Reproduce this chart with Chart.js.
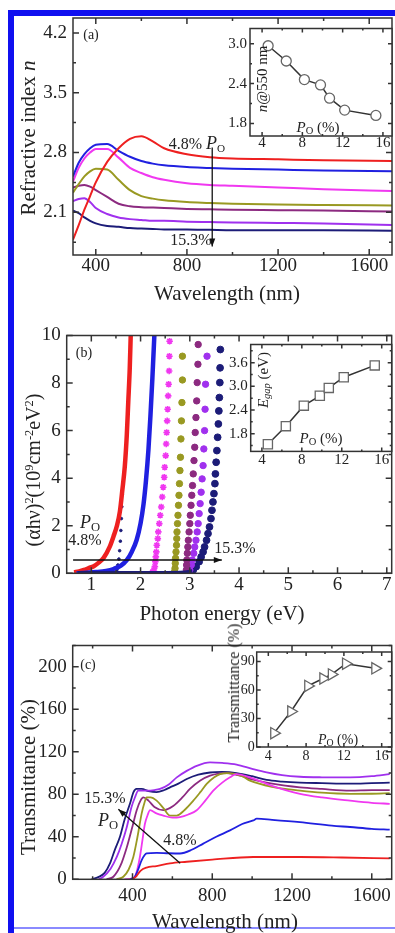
<!DOCTYPE html>
<html>
<head>
<meta charset="utf-8">
<script src="https://cdn.jsdelivr.net/npm/chart.js@4.4.0/dist/chart.umd.min.js"></script>
<style>
  html, body { margin: 0; padding: 0; background: #fff; }
  #page { position: relative; width: 395px; height: 933px; overflow: hidden; background: #fff;
          font-family: "Liberation Serif", "DejaVu Serif", serif; color: #222; }
  canvas { position: absolute; }
  .t { position: absolute; white-space: nowrap; line-height: 1; transform: translate(-50%, -50%); }
  .rot { transform: translate(-50%, -50%) rotate(-90deg); }
  sub { font-size: 70%; vertical-align: -0.25em; line-height: 0; }
  sup { font-size: 62%; vertical-align: 0.6em; line-height: 0; }
  .bar { position: absolute; background: #1010f0; }
</style>
</head>
<body>
<div id="page">
  <div class="bar" style="left:8px;top:10px;width:6px;height:923px"></div>
  <div class="bar" style="left:8px;top:10px;width:387px;height:6px"></div>
  <div class="bar" style="left:14px;top:927px;width:381px;height:2px;background:#8a8aff"></div>

  <canvas id="mainA"></canvas>
  <canvas id="mainB"></canvas>
  <canvas id="mainC"></canvas>
  <canvas id="insetA"></canvas>
  <canvas id="insetB"></canvas>
  <canvas id="insetC"></canvas>

  <!-- panel (a) text -->
  <div class="t" style="left:91px;top:35px;font-size:14px">(a)</div>
  <div class="t" style="left:197px;top:143px;font-size:16px">4.8% <i style="font-size:18px">P</i><sub>O</sub></div>
  <div class="t" style="left:191px;top:240px;font-size:16px">15.3%</div>
  <div class="t rot" style="left:28px;top:138px;font-size:21px">Refractive index <i>n</i></div>
  <div class="t" style="left:227px;top:293px;font-size:21px">Wavelength (nm)</div>
  <div class="t rot" style="left:262px;top:79px;font-size:15px"><i>n</i>@550 nm</div>
  <div class="t" style="left:318px;top:127px;font-size:15px"><i>P</i><sub>O</sub> (%)</div>

  <!-- panel (b) text -->
  <div class="t" style="left:84px;top:353px;font-size:14px">(b)</div>
  <div class="t" style="left:90px;top:522px;font-size:18px"><i>P</i><sub>O</sub></div>
  <div class="t" style="left:85px;top:540px;font-size:16px">4.8%</div>
  <div class="t" style="left:235px;top:548px;font-size:16px">15.3%</div>
  <div class="t rot" style="left:33px;top:470px;font-size:20px">(αhν)<sup>2</sup>(10<sup>9</sup>cm<sup>-2</sup>eV<sup>2</sup>)</div>
  <div class="t" style="left:222px;top:613px;font-size:21px">Photon energy (eV)</div>
  <div class="t rot" style="left:263px;top:380px;font-size:15px"><i>E<sub>gap</sub></i> (eV)</div>
  <div class="t" style="left:321px;top:438px;font-size:15px"><i>P</i><sub>O</sub> (%)</div>

  <!-- panel (c) text -->
  <div class="t" style="left:88px;top:665px;font-size:14px">(c)</div>
  <div class="t" style="left:105px;top:798px;font-size:16px">15.3%</div>
  <div class="t" style="left:108px;top:820px;font-size:18px"><i>P</i><sub>O</sub></div>
  <div class="t" style="left:180px;top:840px;font-size:16px">4.8%</div>
  <div class="t rot" style="left:28px;top:777px;font-size:21px">Transmittance (%)</div>
  <div class="t" style="left:225px;top:921px;font-size:21px">Wavelength (nm)</div>
  <div class="t rot" style="left:234px;top:683px;font-size:16px">Transmittance (%)</div>
  <div class="t" style="left:338px;top:740px;font-size:14px"><i>P</i><sub>O</sub> (%)</div>
</div>

<script>
// ---------- data: (a) refractive index ----------
const wlA     = [300, 325, 350, 375, 400, 450, 500, 550, 600, 650, 700, 800, 900, 1000, 1200, 1400, 1700];
const nRed    = [1.78, 1.95, 2.13, 2.29, 2.45, 2.69, 2.85, 2.96, 2.99, 2.93, 2.85, 2.78, 2.745, 2.73, 2.72, 2.71, 2.70];
const nBlue   = [2.52, 2.68, 2.78, 2.85, 2.89, 2.90, 2.82, 2.75, 2.70, 2.67, 2.65, 2.63, 2.62, 2.61, 2.60, 2.59, 2.58];
const nMag    = [2.46, 2.62, 2.73, 2.80, 2.84, 2.84, 2.74, 2.62, 2.56, 2.51, 2.48, 2.44, 2.42, 2.41, 2.39, 2.37, 2.35];
const nOlive  = [2.33, 2.43, 2.52, 2.58, 2.61, 2.60, 2.48, 2.36, 2.29, 2.26, 2.24, 2.22, 2.21, 2.20, 2.19, 2.185, 2.18];
const nPurple = [2.39, 2.41, 2.42, 2.40, 2.36, 2.28, 2.20, 2.17, 2.16, 2.155, 2.15, 2.14, 2.135, 2.13, 2.125, 2.12, 2.11];
const nViolet = [2.23, 2.255, 2.265, 2.22, 2.15, 2.08, 2.04, 2.02, 2.01, 2.00, 2.00, 1.99, 1.985, 1.98, 1.975, 1.97, 1.95];
const nNavy   = [2.12, 2.09, 2.04, 2.00, 1.97, 1.94, 1.93, 1.915, 1.91, 1.905, 1.90, 1.90, 1.895, 1.89, 1.89, 1.89, 1.885];

// ---------- data: insets, oxygen partial pressure (%) ----------
const pO      = [4.6, 6.4, 8.2, 9.8, 10.7, 12.2, 15.3];
const nAt550  = [2.97, 2.74, 2.46, 2.38, 2.18, 2.00, 1.92];
const eGap    = [1.53, 1.99, 2.51, 2.76, 2.96, 3.23, 3.53];
const tInset  = [14.6, 37.4, 64.3, 72.1, 76.4, 87.7, 82.8];

// ---------- data: (b) Tauc plot ----------
const redE = [0.65, 0.75, 0.85, 0.95, 1.05, 1.15, 1.25, 1.37, 1.45, 1.52, 1.58, 1.63, 1.68, 1.72, 1.75, 1.78, 1.80];
const redY = [0.04, 0.08, 0.14, 0.22, 0.30, 0.45, 0.65, 1.10, 1.55, 2.00, 2.60, 3.50, 4.50, 5.80, 7.20, 8.60, 10.0];
const blueE = [0.70, 0.90, 1.10, 1.30, 1.45, 1.60, 1.72, 1.82, 1.92, 2.00, 2.06, 2.11, 2.16, 2.20, 2.24, 2.28];
const blueY = [0.0, 0.02, 0.05, 0.10, 0.18, 0.32, 0.55, 0.90, 1.40, 2.10, 2.90, 3.90, 5.20, 6.60, 8.20, 10.0];
const dotE = [1.52, 1.54, 1.56, 1.575, 1.59, 1.60, 1.61, 1.62, 1.63, 1.64];
const dotY = [0.15, 0.35, 0.6, 0.95, 1.35, 1.8, 2.3, 2.8, 3.3, 3.8];
const magE = [2.24, 2.27, 2.29, 2.30, 2.31, 2.32, 2.33, 2.35, 2.36, 2.38, 2.40, 2.42, 2.44, 2.46, 2.48, 2.49, 2.51, 2.52, 2.53, 2.54, 2.55, 2.56, 2.57, 2.58, 2.585, 2.59];
const magY = [0.05, 0.14, 0.28, 0.49, 0.69, 0.90, 1.18, 1.46, 1.74, 2.09, 2.44, 2.79, 3.21, 3.62, 4.04, 4.46, 4.95, 5.44, 5.92, 6.41, 6.90, 7.46, 7.95, 8.51, 9.13, 9.76];
const oliveE = [2.69, 2.70, 2.705, 2.71, 2.72, 2.73, 2.735, 2.74, 2.75, 2.76, 2.77, 2.78, 2.79, 2.80, 2.81, 2.82, 2.83, 2.84, 2.85, 2.85];
const oliveY = [0.07, 0.21, 0.42, 0.63, 0.90, 1.18, 1.46, 1.74, 2.09, 2.44, 2.86, 3.28, 3.77, 4.32, 4.88, 5.65, 6.41, 7.18, 8.13, 9.13];
const purpleE = [2.93, 2.935, 2.94, 2.95, 2.96, 2.97, 2.985, 3.00, 3.01, 3.025, 3.04, 3.055, 3.07, 3.085, 3.10, 3.11, 3.125, 3.14, 3.15, 3.165, 3.17];
const purpleY = [0.14, 0.35, 0.56, 0.84, 1.11, 1.39, 1.74, 2.09, 2.44, 2.86, 3.28, 3.69, 4.18, 4.74, 5.30, 5.92, 6.55, 7.25, 8.02, 8.79, 9.62];
const violetE = [3.00, 3.03, 3.05, 3.08, 3.10, 3.125, 3.15, 3.17, 3.19, 3.21, 3.23, 3.25, 3.27, 3.285, 3.30, 3.31, 3.32, 3.35];
const violetY = [0.14, 0.35, 0.56, 0.84, 1.11, 1.39, 1.74, 2.09, 2.51, 2.93, 3.41, 3.97, 4.53, 5.23, 6.00, 6.90, 7.95, 9.13];
const navyE = [3.07, 3.13, 3.19, 3.23, 3.27, 3.30, 3.34, 3.37, 3.40, 3.43, 3.45, 3.47, 3.49, 3.51, 3.52, 3.535, 3.55, 3.565, 3.58, 3.59, 3.60, 3.61, 3.615, 3.62];
const navyY = [0.14, 0.28, 0.49, 0.69, 0.90, 1.11, 1.39, 1.67, 1.95, 2.30, 2.65, 3.00, 3.35, 3.77, 4.18, 4.67, 5.16, 5.72, 6.28, 6.83, 7.39, 8.02, 8.64, 9.41];
const navyBaseE = [0.72, 1.20, 1.80, 2.40, 2.90, 3.05];
const navyBaseY = [0.02, 0.02, 0.02, 0.02, 0.04, 0.10];

// ---------- data: (c) transmittance ----------
const navyWl = [195, 228, 260, 287, 310, 337, 360, 387, 405, 420, 446, 480, 521, 560, 588, 630, 672, 730, 789, 850, 922, 1000, 1073, 1150, 1240, 1350, 1491, 1600, 1690];
const navyT  = [0, 2, 6, 15, 27, 40, 56, 71, 82, 85, 85, 83, 82, 84, 86.5, 90, 94.4, 98.5, 100.5, 101, 100, 97, 93.5, 92, 91, 90.5, 90, 90.5, 91];
const violetWl = [230, 253, 290, 321, 345, 371, 395, 412, 429, 471, 510, 538, 580, 622, 672, 722, 789, 850, 922, 1000, 1073, 1150, 1240, 1350, 1491, 1600, 1690];
const violetT  = [0, 2.4, 10, 21, 33, 49, 68, 77, 83.5, 83.5, 84, 85, 89, 95.9, 102, 106.8, 110, 109.5, 108, 104, 100.6, 98, 96.5, 96, 95.9, 97, 99];
const plumWl = [270, 304, 340, 371, 400, 421, 440, 454, 480, 510, 554, 604, 650, 688, 740, 789, 830, 872, 950, 989, 1100, 1240, 1350, 1491, 1600, 1690];
const plumT  = [0, 2.4, 13, 30, 50, 65, 74, 77, 74, 68, 65, 69, 77, 85, 93, 97.5, 99.5, 100, 97, 94.4, 90, 86.5, 85, 83.5, 84, 84];
const oliveWl = [320, 354, 380, 404, 425, 446, 460, 471, 490, 521, 555, 588, 622, 660, 705, 740, 772, 810, 839, 880, 950, 989, 1100, 1240, 1350, 1491, 1600, 1690];
const oliveT  = [0, 2.4, 9, 21, 40, 62, 72, 77, 77, 74, 67, 60, 60, 65, 74, 82, 89.7, 96, 99, 100, 97, 92.8, 87, 83.5, 81.5, 80.4, 80.5, 81];
const magWl = [360, 400, 412, 425, 437, 450, 462, 475, 488, 520, 554, 600, 638, 680, 722, 765, 805, 850, 889, 920, 989, 1100, 1240, 1350, 1491, 1600, 1690];
const magT  = [0, 1, 2.4, 10, 21, 37, 52, 60, 65, 62, 60, 58, 58.5, 61, 65, 74, 83.5, 91, 96, 99, 96, 88, 80.4, 77, 74, 72, 71];
const blueWl = [390, 412, 430, 446, 471, 521, 580, 638, 700, 755, 820, 889, 950, 1006, 1023, 1100, 1240, 1400, 1491, 1600, 1690];
const blueT  = [0, 2.4, 10, 18, 24.3, 24.9, 24.5, 24.3, 28, 33.6, 40, 46, 52, 55.4, 57, 56, 53.8, 50.5, 49.2, 47.5, 46.7];
const redWl = [400, 420, 440, 470, 520, 588, 672, 800, 1006, 1240, 1450, 1690];
const redT  = [0, 3, 8, 11, 12.5, 15, 16.5, 18.5, 21, 21, 20.5, 19.6];

// ---------- tick labels ----------
const ticksWl    = [400, 800, 1200, 1600];
const ticksN     = [2.1, 2.8, 3.5, 4.2];
const ticksE     = [1, 2, 3, 4, 5, 6, 7];
const ticksTauc  = [0, 2, 4, 6, 8, 10];
const ticksT     = [0, 40, 80, 120, 160, 200];
const ticksPO    = [4, 8, 12, 16];
const ticksN550  = [1.8, 2.4, 3.0];
const ticksEgap  = [1.8, 2.4, 3.0, 3.6];
const ticksTin   = [0, 30, 60, 90];

const FONT = '"Liberation Serif", "DejaVu Serif", serif';
const C = { red: '#ee2020', blue: '#2020e0', mag: '#f038f0', olive: '#999922', purple: '#8c2a80', violet: '#a030ee', navy: '#1c1c78' };

function pts(xs, ys) { return xs.map((x, i) => ({ x: x, y: ys[i] })); }

// frame, mirrored inward ticks, arrows
const frame = {
  id: 'frame',
  beforeDraw(chart, args, o) {
    if (!o.fill) return;
    const a = chart.chartArea, ctx = chart.ctx;
    ctx.save();
    ctx.fillStyle = '#fff';
    ctx.fillRect(a.left, a.top, a.right - a.left, a.bottom - a.top);
    ctx.restore();
  },
  afterDatasetsDraw(chart, args, o) {
    const ctx = chart.ctx, a = chart.chartArea, x = chart.scales.x, y = chart.scales.y;
    const major = o.major || 6, minor = o.minor || 3;
    ctx.save();
    ctx.strokeStyle = '#333';
    ctx.lineWidth = 1.5;
    ctx.strokeRect(a.left, a.top, a.right - a.left, a.bottom - a.top);
    [x, y].forEach(s => {
      const vals = s.ticks.map(t => t.value);
      const step = vals[1] - vals[0];
      const marks = vals.map(v => [v, major]);
      for (let v = vals[0] - step / 2; v < s.max + 1e-9; v += step) if (v > s.min) marks.push([v, minor]);
      marks.forEach(m => {
        const p = s.getPixelForValue(m[0]);
        ctx.beginPath();
        if (s === x) {
          ctx.moveTo(p, a.bottom); ctx.lineTo(p, a.bottom - m[1]);
          ctx.moveTo(p, a.top); ctx.lineTo(p, a.top + m[1]);
        } else {
          ctx.moveTo(a.left, p); ctx.lineTo(a.left + m[1], p);
          ctx.moveTo(a.right, p); ctx.lineTo(a.right - m[1], p);
        }
        ctx.stroke();
      });
    });
    (o.arrows || []).forEach(ar => {
      const x0 = x.getPixelForValue(ar.from[0]), y0 = y.getPixelForValue(ar.from[1]);
      const x1 = x.getPixelForValue(ar.to[0]), y1 = y.getPixelForValue(ar.to[1]);
      const ang = Math.atan2(y1 - y0, x1 - x0);
      ctx.strokeStyle = '#111'; ctx.fillStyle = '#111'; ctx.lineWidth = 1.3;
      ctx.beginPath(); ctx.moveTo(x0, y0); ctx.lineTo(x1, y1); ctx.stroke();
      ctx.beginPath();
      ctx.moveTo(x1, y1);
      ctx.lineTo(x1 - 8 * Math.cos(ang) + 3 * Math.sin(ang), y1 - 8 * Math.sin(ang) - 3 * Math.cos(ang));
      ctx.lineTo(x1 - 8 * Math.cos(ang) - 3 * Math.sin(ang), y1 - 8 * Math.sin(ang) + 3 * Math.cos(ang));
      ctx.closePath(); ctx.fill();
    });
    ctx.restore();
  }
};
Chart.register(frame);

function axis(min, max, tickList, size, pad, digits) {
  return {
    type: 'linear', min: min, max: max,
    grid: { display: false, drawTicks: false },
    border: { display: false },
    afterBuildTicks: s => { s.ticks = tickList.map(v => ({ value: v })); },
    ticks: {
      autoSkip: false, maxRotation: 0, minRotation: 0,
      padding: pad, color: '#222', font: { family: FONT, size: size, lineHeight: 1 },
      callback: v => v.toFixed(digits)
    }
  };
}

function mk(id, cv, area, x, y, datasets, extra) {
  const c = document.getElementById(id);
  c.width = cv.w; c.height = cv.h;
  c.style.left = cv.x + 'px'; c.style.top = cv.y + 'px';
  const yw = area.l - cv.x, xh = cv.y + cv.h - area.b;
  x.afterFit = s => { s.height = xh; };
  y.afterFit = s => { s.width = yw; };
  return new Chart(c, {
    type: 'scatter',
    data: { datasets: datasets },
    options: {
      responsive: false, animation: false, devicePixelRatio: 1,
      layout: { autoPadding: false, padding: { left: 0, bottom: 0, top: area.t - cv.y, right: cv.x + cv.w - area.r } },
      scales: { x: x, y: y },
      plugins: { legend: { display: false }, tooltip: { enabled: false }, frame: extra }
    }
  });
}

function line(data, color, width) {
  return { data: data, showLine: true, borderColor: color, borderWidth: width || 2, pointRadius: 0,
           cubicInterpolationMode: 'monotone' };
}
function dots(data, color, style, r) {
  return { data: data, showLine: false, pointStyle: style, pointRadius: r, borderWidth: style === 'star' ? 1.6 : 1,
           borderColor: color, backgroundColor: color };
}
function inset(data, style, r, rot) {
  return { data: data, showLine: true, borderColor: '#333', borderWidth: 1.5, pointStyle: style,
           pointRadius: r, pointRotation: rot || 0, pointBorderColor: '#666', pointBackgroundColor: '#fff',
           pointBorderWidth: 1.3 };
}

// (a) main
mk('mainA', { x: 0, y: 0, w: 400, h: 285 }, { l: 73, t: 18, r: 392, b: 255 },
  axis(300, 1700, ticksWl, 19, 2, 0), axis(1.6, 4.375, ticksN, 19, 6, 1),
  [line(pts(wlA, nRed), C.red), line(pts(wlA, nBlue), C.blue), line(pts(wlA, nMag), C.mag),
   line(pts(wlA, nOlive), C.olive), line(pts(wlA, nPurple), C.purple), line(pts(wlA, nViolet), C.violet),
   line(pts(wlA, nNavy), C.navy)],
  { arrows: [{ from: [911, 2.86], to: [911, 1.70] }] });

// (a) inset
mk('insetA', { x: 222, y: 18, w: 178, h: 137 }, { l: 250, t: 18, r: 392, b: 136 },
  axis(2.8, 16.9, ticksPO, 15, 0, 0), axis(1.61, 3.23, ticksN550, 15, 3, 1),
  [inset(pts(pO, nAt550), 'circle', 5)], { fill: true, major: 4, minor: 2 });

// (b) main
mk('mainB', { x: 0, y: 320, w: 400, h: 280 }, { l: 66.7, t: 334.3, r: 391.7, b: 573.3 },
  axis(0.5, 7.1, ticksE, 19, 2, 0), axis(0, 10, ticksTauc, 19, 6, 0),
  [line(pts(navyBaseE, navyBaseY), C.navy, 3.5), line(pts(blueE, blueY), C.blue, 4.5),
   line(pts(redE, redY), C.red, 4.5), dots(pts(dotE, dotY), C.navy, 'circle', 1.3),
   dots(pts(magE, magY), C.mag, 'star', 3.3), dots(pts(oliveE, oliveY), C.olive, 'circle', 3.2),
   dots(pts(purpleE, purpleY), C.purple, 'circle', 3.2), dots(pts(violetE, violetY), C.violet, 'circle', 3.2),
   dots(pts(navyE, navyY), C.navy, 'circle', 3.4)],
  { arrows: [{ from: [0.63, 0.56], to: [3.65, 0.56] }] });

// (b) inset
mk('insetB', { x: 222, y: 334.3, w: 178, h: 135 }, { l: 250.7, t: 334.3, r: 391.7, b: 451.7 },
  axis(2.88, 17.0, ticksPO, 15, 1, 0), axis(1.35, 4.06, ticksEgap, 15, 3, 1),
  [inset(pts(pO, eGap), 'rect', 6.5)], { fill: true, major: 4, minor: 2 });

// (c) main
mk('mainC', { x: 0, y: 630, w: 400, h: 280 }, { l: 72.7, t: 643.3, r: 391.7, b: 879.3 },
  axis(100, 1700, ticksWl, 19, 7, 0), axis(0, 220, ticksT, 19, 6, 0),
  [line(pts(redWl, redT), C.red, 1.8), line(pts(blueWl, blueT), C.blue, 1.8), line(pts(magWl, magT), C.mag, 1.8),
   line(pts(oliveWl, oliveT), C.olive, 1.8), line(pts(plumWl, plumT), C.purple, 1.8),
   line(pts(violetWl, violetT), C.violet, 1.8), line(pts(navyWl, navyT), C.navy, 1.8)],
  { arrows: [{ from: [639, 15], to: [329, 66] }] });

// (c) inset
mk('insetC', { x: 228, y: 643.3, w: 172, h: 122 }, { l: 256.7, t: 643.3, r: 391.7, b: 747.3 },
  axis(2.77, 17.06, ticksPO, 14, 2, 0), axis(0, 100, ticksTin, 14, 2, 0),
  [inset(pts(pO, tInset), 'triangle', 6.5, 90)], { fill: true, major: 4, minor: 2 });
</script>
</body>
</html>
